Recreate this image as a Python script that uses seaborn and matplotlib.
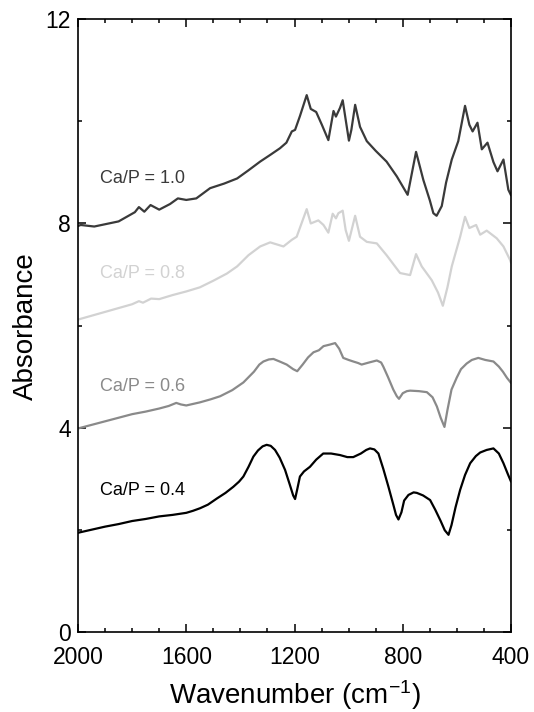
import matplotlib
matplotlib.use("Agg")
import matplotlib.pyplot as plt
import seaborn as sns
import pandas as pd
from matplotlib.ticker import MultipleLocator

# FTIR spectra
wn_10 = [2000, 1990, 1940, 1850, 1790, 1775, 1755, 1732, 1700, 1660, 1631, 1600,
         1563, 1512, 1460, 1412, 1370, 1327, 1290, 1254, 1230, 1210, 1198, 1180, 1155,
         1140, 1120, 1099, 1075, 1056, 1047, 1032, 1022, 1011, 999, 990, 976, 958,
         933, 900, 860, 822, 782, 751, 724, 700, 687, 675, 656, 640, 619, 595, 570,
         554, 542, 524, 508, 487, 465, 450, 428, 410, 400]
abs_10 = [7.95, 7.97, 7.94, 8.04, 8.22, 8.32, 8.23, 8.36, 8.27, 8.38, 8.49, 8.46,
          8.49, 8.69, 8.78, 8.88, 9.04, 9.21, 9.34, 9.47, 9.58, 9.80, 9.83, 10.10, 10.51,
          10.24, 10.18, 9.93, 9.63, 10.20, 10.09, 10.26, 10.41, 10.03, 9.62, 9.83, 10.32, 9.89,
          9.61, 9.42, 9.21, 8.92, 8.56, 9.40, 8.85, 8.45, 8.20, 8.15, 8.34, 8.80, 9.25, 9.61,
          10.30, 9.93, 9.80, 9.97, 9.45, 9.58, 9.20, 9.02, 9.25, 8.66, 8.55]

wn_08 = [2000, 1900, 1800, 1775, 1760, 1730, 1700, 1650, 1600, 1550, 1500, 1450,
         1412, 1370, 1327, 1290, 1241, 1210, 1192, 1155, 1140, 1112, 1093, 1075,
         1059, 1047, 1038, 1022, 1011, 999, 976, 958, 933, 896, 860, 810, 773, 751,
         730, 693, 670, 652, 635, 619, 588, 570, 554, 529, 514, 490, 453, 428, 404, 400]
abs_08 = [6.12, 6.27, 6.42, 6.48, 6.45, 6.53, 6.52, 6.60, 6.67, 6.75, 6.88, 7.02,
          7.16, 7.38, 7.55, 7.63, 7.55, 7.68, 7.74, 8.28, 8.00, 8.06, 7.97, 7.82,
          8.19, 8.10, 8.20, 8.25, 7.87, 7.66, 8.15, 7.74, 7.64, 7.61, 7.38, 7.03, 6.99, 7.40,
          7.16, 6.89, 6.65, 6.39, 6.75, 7.16, 7.74, 8.13, 7.91, 7.97, 7.78, 7.86, 7.71, 7.55,
          7.29, 7.23]

wn_06 = [2000, 1950, 1900, 1850, 1800, 1750, 1700, 1665, 1637, 1620, 1600, 1575,
         1550, 1510, 1475, 1430, 1389, 1350, 1330, 1315, 1295, 1278, 1255, 1229,
         1205, 1190, 1170, 1150, 1130, 1110, 1093, 1070, 1050, 1035, 1020, 1000,
         983, 965, 952, 925, 896, 880, 872, 855, 835, 822, 814, 800, 785, 773, 740,
         711, 690, 674, 660, 646, 635, 620, 601, 585, 564, 545, 521, 495, 465, 445,
         430, 415, 400]
abs_06 = [3.99, 4.06, 4.13, 4.20, 4.27, 4.32, 4.38, 4.43, 4.49, 4.46, 4.44, 4.47,
          4.50, 4.56, 4.62, 4.74, 4.89, 5.10, 5.24, 5.30, 5.34, 5.35, 5.30, 5.24,
          5.15, 5.11, 5.24, 5.38, 5.48, 5.52, 5.60, 5.63, 5.66, 5.55, 5.37, 5.33,
          5.30, 5.27, 5.24, 5.28, 5.32, 5.28, 5.20, 5.00, 4.75, 4.62, 4.57, 4.68, 4.72, 4.73, 4.72,
          4.70, 4.60, 4.42, 4.20, 4.02, 4.35, 4.75, 4.98, 5.15, 5.26, 5.33, 5.37, 5.33, 5.30, 5.20,
          5.10, 4.98, 4.88]

wn_04 = [2000, 1950, 1900, 1850, 1800, 1750, 1700, 1650, 1600, 1575, 1549, 1520,
         1487, 1455, 1426, 1405, 1389, 1370, 1352, 1335, 1318, 1303, 1288, 1272,
         1255, 1235, 1218, 1205, 1198, 1190, 1180, 1165, 1143, 1120, 1094, 1065,
         1032, 1005, 983, 955, 935, 921, 905, 890, 872, 853, 835, 825, 816, 805,
         795, 779, 760, 748, 725, 699, 680, 660, 645, 631, 620, 605, 588, 570, 551,
         530, 514, 490, 465, 445, 428, 412, 400]
abs_04 = [1.95, 2.01, 2.07, 2.12, 2.18, 2.22, 2.27, 2.30, 2.34, 2.38, 2.43, 2.50,
          2.62, 2.73, 2.85, 2.95, 3.05, 3.24, 3.44, 3.56, 3.64, 3.67, 3.65, 3.57,
          3.42, 3.18, 2.90, 2.68, 2.61, 2.80, 3.05, 3.15, 3.24, 3.38, 3.50, 3.50,
          3.47, 3.43, 3.43, 3.50, 3.57, 3.60, 3.58, 3.50, 3.20, 2.85, 2.50, 2.30, 2.21, 2.35,
          2.58, 2.69, 2.74, 2.73, 2.68, 2.59, 2.40, 2.18, 2.00, 1.91, 2.10, 2.45, 2.79, 3.08, 3.31,
          3.45, 3.52, 3.57, 3.60, 3.50, 3.31, 3.10, 2.95]

labels = ["Ca/P = 1.0", "Ca/P = 0.8", "Ca/P = 0.6", "Ca/P = 0.4"]
label_y = [8.88, 7.03, 4.81, 2.77]
colors = ["#3a3a3a", "#d2d2d2", "#8a8a8a", "#000000"]


def main():
    sns.set_style("ticks")
    plt.rcParams["font.family"] = ["Liberation Sans", "DejaVu Sans"]
    plt.rcParams["mathtext.default"] = "regular"

    fig = plt.figure(figsize=(5.34, 7.12), dpi=100)
    ax = fig.add_axes([0.1461, 0.1117, 0.8109, 0.8617])

    series = [(wn_10, abs_10), (wn_08, abs_08), (wn_06, abs_06), (wn_04, abs_04)]
    for (wn, ab), lab, c, ly in zip(series, labels, colors, label_y):
        df = pd.DataFrame({"wn": wn, "abs": ab})
        sns.lineplot(data=df, x="wn", y="abs", ax=ax, color=c, linewidth=1.6,
                     sort=False, estimator=None)
        ax.text(1920, ly, lab, color=c, fontsize=13, va="center", ha="left")

    ax.set_xlim(2000, 400)
    ax.set_ylim(0, 12)
    ax.xaxis.set_major_locator(MultipleLocator(400))
    ax.xaxis.set_minor_locator(MultipleLocator(100))
    ax.yaxis.set_major_locator(MultipleLocator(4))
    ax.yaxis.set_minor_locator(MultipleLocator(2))
    ax.tick_params(which="both", direction="in", top=True, right=True,
                   width=1.1, color="black", labelcolor="black")
    ax.tick_params(which="major", length=6, labelsize=16.5)
    ax.tick_params(axis="x", which="major", pad=9.5)
    ax.tick_params(axis="y", which="major", pad=5)
    ax.tick_params(which="minor", length=3)
    for s in ax.spines.values():
        s.set_linewidth(1.2)
        s.set_color("black")

    ax.set_xlabel("Wavenumber (cm$^{-1}$)", fontsize=20, labelpad=7, color="black")
    ax.set_ylabel("Absorbance", fontsize=20, labelpad=5, color="black")

    fig.savefig("out.png", dpi=100)


if __name__ == "__main__":
    main()
